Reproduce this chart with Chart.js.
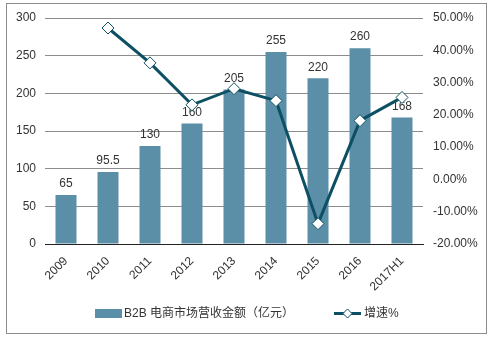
<!DOCTYPE html>
<html>
<head>
<meta charset="utf-8">
<script src="https://cdn.jsdelivr.net/npm/chart.js@4"></script>
<style>
  html, body { margin: 0; padding: 0; background: #fff; }
  #wrap { width: 491px; height: 338px; position: relative; }
</style>
</head>
<body>
<div id="wrap"><canvas id="c" width="491" height="338"></canvas></div>
<script>
// Yearly B2B e-commerce revenue (100 million yuan) and growth rate
const years = ['2009', '2010', '2011', '2012', '2013', '2014', '2015', '2016', '2017H1'];
const revenue = [65, 95.5, 130, 160, 205, 255, 220, 260, 168];
const growth = [null, 46.9, 36.1, 23.1, 28.1, 24.4, -13.7, 18.2, 25.4];
const revenueLabel = 'B2B 电商市场营收金额（亿元）';
const growthLabel = '增速%';

const FONT = '"Liberation Sans", Arial, "Noto Sans CJK SC", sans-serif';
const BAR = '#5b8fa8';
const LINE = '#0d4f63';
const TEXT = '#333333';
const BAR_INDEX = 1;

// Outer frame
const framePlugin = {
  id: 'frame',
  afterDraw(chart) {
    const ctx = chart.ctx;
    ctx.save();
    ctx.strokeStyle = '#8c8c8c';
    ctx.lineWidth = 1;
    ctx.strokeRect(6.5, 3.5, 480, 330);
    ctx.restore();
  }
};

// Value labels above each bar, drawn right after the bars (below the line)
const barLabelPlugin = {
  id: 'barLabels',
  afterDatasetDraw(chart, args) {
    if (args.index !== BAR_INDEX) return;
    const ctx = chart.ctx;
    const meta = chart.getDatasetMeta(BAR_INDEX);
    ctx.save();
    ctx.font = '12px ' + FONT;
    ctx.fillStyle = TEXT;
    ctx.textAlign = 'center';
    ctx.textBaseline = 'bottom';
    meta.data.forEach((bar, i) => {
      ctx.fillText(String(revenue[i]), bar.x, bar.y - 5);
    });
    ctx.restore();
  }
};

// Legend along the bottom
const legendPlugin = {
  id: 'bottomLegend',
  afterDraw(chart) {
    const ctx = chart.ctx;
    const cy = 313.5;
    ctx.save();
    ctx.font = '12px ' + FONT;
    ctx.fillStyle = BAR;
    ctx.fillRect(95, cy - 4.5, 27, 9);
    ctx.fillStyle = TEXT;
    ctx.textBaseline = 'middle';
    ctx.textAlign = 'left';
    ctx.fillText(revenueLabel, 124, cy);

    ctx.strokeStyle = LINE;
    ctx.lineWidth = 3;
    ctx.beginPath();
    ctx.moveTo(334, cy);
    ctx.lineTo(361, cy);
    ctx.stroke();
    ctx.fillStyle = '#fff';
    ctx.lineWidth = 1;
    ctx.beginPath();
    ctx.moveTo(347.5, cy - 4.5);
    ctx.lineTo(352, cy);
    ctx.lineTo(347.5, cy + 4.5);
    ctx.lineTo(343, cy);
    ctx.closePath();
    ctx.fill();
    ctx.stroke();
    ctx.fillStyle = TEXT;
    ctx.fillText(growthLabel, 364, cy);
    ctx.restore();
  }
};

new Chart(document.getElementById('c'), {
  data: {
    labels: years,
    datasets: [
      {
        type: 'line',
        label: growthLabel,
        data: growth,
        yAxisID: 'y1',
        borderColor: LINE,
        borderWidth: 3,
        pointStyle: 'rectRot',
        pointRadius: 6,
        pointBackgroundColor: '#ffffff',
        pointBorderColor: LINE,
        pointBorderWidth: 1,
        tension: 0,
        order: 0
      },
      {
        type: 'bar',
        label: revenueLabel,
        data: revenue,
        yAxisID: 'y',
        backgroundColor: BAR,
        barPercentage: 0.5,
        categoryPercentage: 1.0,
        order: 1
      }
    ]
  },
  options: {
    responsive: false,
    animation: false,
    layout: { padding: { top: 18, left: 0, right: 0, bottom: 0 } },
    plugins: { legend: { display: false }, tooltip: { enabled: false } },
    scales: {
      x: {
        grid: { display: false, drawTicks: false },
        border: { color: '#222', width: 1 },
        ticks: {
          color: TEXT, font: { family: FONT, size: 12 },
          maxRotation: 45, minRotation: 45, padding: 10
        },
        afterFit(s) { s.height = 94; }
      },
      y: {
        position: 'left',
        min: 0, max: 300,
        grid: { color: '#8c8c8c', drawTicks: false },
        border: { display: false },
        ticks: { stepSize: 50, color: TEXT, font: { family: FONT, size: 12 }, padding: 9 },
        afterFit(s) { s.width = 45; }
      },
      y1: {
        position: 'right',
        min: -20, max: 50,
        grid: { display: false, drawTicks: false },
        border: { display: false },
        ticks: {
          stepSize: 10, color: TEXT, font: { family: FONT, size: 12 }, padding: 10,
          callback: v => v.toFixed(2) + '%'
        },
        afterFit(s) { s.width = 68; }
      }
    }
  },
  plugins: [framePlugin, barLabelPlugin, legendPlugin]
});
</script>
</body>
</html>
